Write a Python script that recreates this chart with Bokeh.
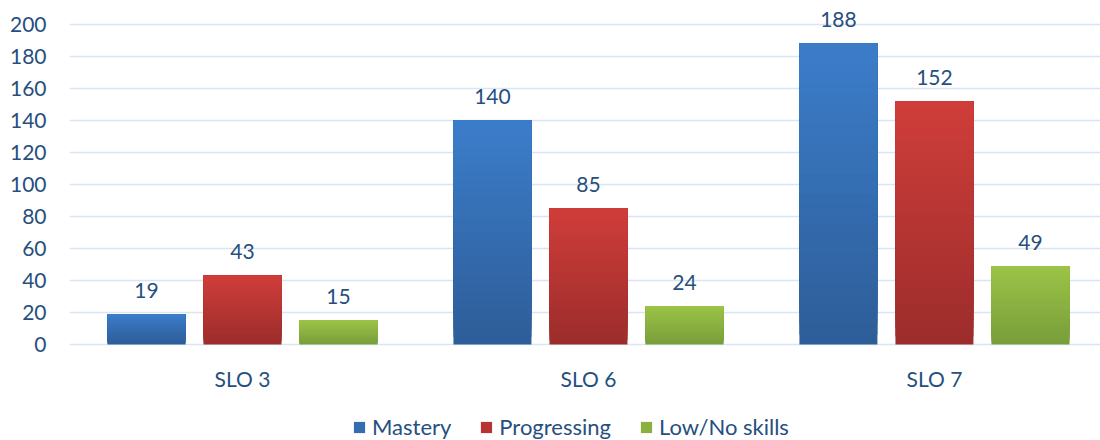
from bokeh.plotting import figure
from bokeh.models import Range1d, FixedTicker, ColumnDataSource, LabelSet, Legend, LegendItem
from bokeh.core.properties import value
from bokeh.embed import file_html
from bokeh.resources import INLINE

categories = ["SLO 3", "SLO 6", "SLO 7"]
series = ["Mastery", "Progressing", "Low/No skills"]
mastery = [19, 140, 188]
progressing = [43, 85, 152]
low_no = [15, 24, 49]
top_colors = ["#3b7cc9", "#cf3d3a", "#9bc347"]
bottom_colors = ["#2e5e99", "#9c2d2b", "#789e3a"]
y_ticks = [0, 20, 40, 60, 80, 100, 120, 140, 160, 180, 200]

FONT = "Lato"
TXT = "#264f80"
GRID = "#d9e5f2"
N_SHADES = 30


def mix(c1, c2, t):
    a = [int(c1[i:i + 2], 16) for i in (1, 3, 5)]
    b = [int(c2[i:i + 2], 16) for i in (1, 3, 5)]
    return "#%02x%02x%02x" % tuple(round(x + (y - x) * t) for x, y in zip(a, b))


p = figure(width=1100, height=440, output_backend="svg", toolbar_location=None,
           x_range=Range1d(0, 2.98), y_range=Range1d(-60, 215),
           min_border_left=69, min_border_right=0, min_border_top=0, min_border_bottom=0)
p.outline_line_color = None
p.background_fill_color = "white"
p.border_fill_color = "white"
p.xaxis.visible = False

centers = [i + 0.5 for i in range(len(categories))]
offsets = [-0.2775, 0.0, 0.2775]
values = [mastery, progressing, low_no]
legend_items = []
for name, vals, off, ctop, cbot in zip(series, values, offsets, top_colors, bottom_colors):
    xs = [c + off for c in centers]
    # vertical gradient: each layer runs from its own start up to the bar's top
    for k in range(N_SHADES):
        t = k / (N_SHADES - 1)
        col = mix(cbot, ctop, t)
        src = ColumnDataSource(dict(x=xs,
                                    bottom=[v * k / N_SHADES for v in vals],
                                    top=vals))
        p.vbar(x="x", top="top", bottom="bottom", width=0.2254, source=src,
               fill_color=col, line_color=None)
    mid = mix(cbot, ctop, 0.5)
    leg = p.vbar(x=[0], top=[0], width=0, fill_color=mid, line_color=None)
    legend_items.append(LegendItem(label=name, renderers=[leg]))
    lab_src = ColumnDataSource(dict(x=xs, top=vals, label=[str(v) for v in vals]))
    p.add_layout(LabelSet(x="x", y="top", text="label", source=lab_src, y_offset=24,
                          text_align="center", text_baseline="middle",
                          text_font=value(FONT), text_font_size="21px", text_color=TXT))

cat_src = ColumnDataSource(dict(x=centers, y=[0] * len(centers), label=categories))
p.add_layout(LabelSet(x="x", y="y", text="label", source=cat_src, y_offset=-34,
                      text_align="center", text_baseline="middle",
                      text_font=value(FONT), text_font_size="21px", text_color=TXT))

p.yaxis.ticker = FixedTicker(ticks=y_ticks)
p.yaxis.axis_line_color = None
p.yaxis.major_tick_line_color = None
p.yaxis.minor_tick_line_color = None
p.yaxis.major_tick_out = 0
p.yaxis.major_tick_in = 0
p.yaxis.major_label_standoff = 23
p.yaxis.major_label_text_font = FONT
p.yaxis.major_label_text_font_size = "21px"
p.yaxis.major_label_text_color = TXT

p.xgrid.grid_line_color = None
p.ygrid.ticker = FixedTicker(ticks=y_ticks)
p.ygrid.grid_line_color = GRID
p.ygrid.grid_line_width = 1.5

legend = Legend(items=legend_items, orientation="horizontal", location=(283, 0),
                glyph_width=14, glyph_height=14, label_standoff=6, spacing=28,
                label_height=24, padding=0, margin=0, border_line_color=None,
                background_fill_alpha=0,
                label_text_font=FONT, label_text_font_size="22px", label_text_color=TXT)
p.add_layout(legend, "center")

open("out.html", "w").write(file_html(p, INLINE))
